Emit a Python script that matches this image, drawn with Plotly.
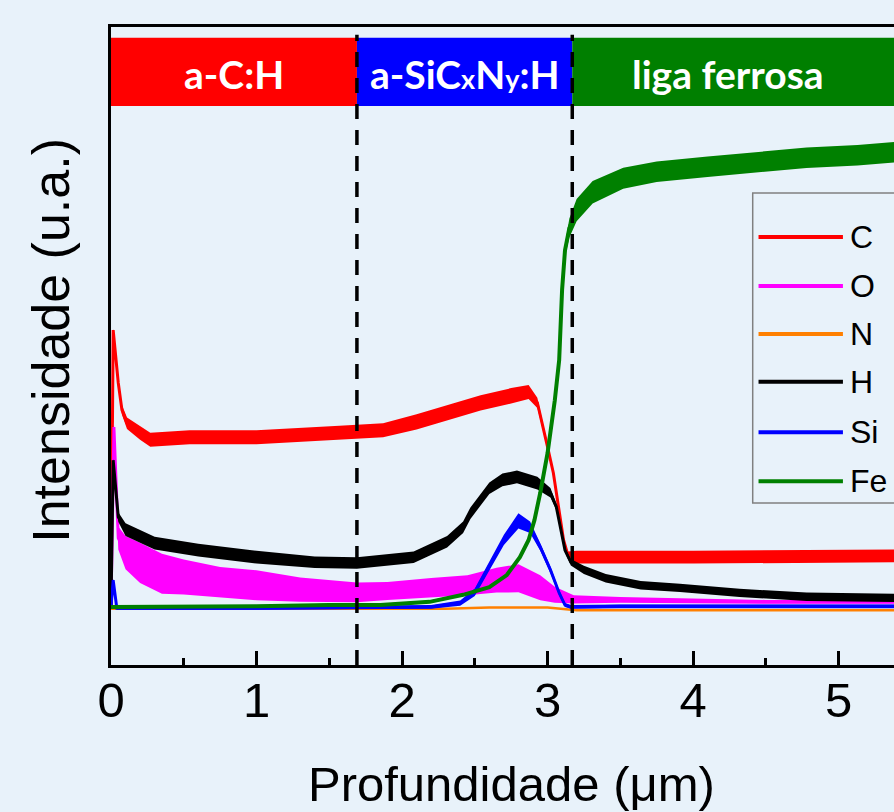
import plotly.graph_objects as go

# ---------------- data ----------------
series_names = ["C", "O", "N", "H", "Si", "Fe"]
series_colors = ["#ff0000", "#ff00ff", "#ff8000", "#000000", "#0000ff", "#008000"]

depth_C = [0, 0.015, 0.05, 0.075, 0.11, 0.2, 0.27, 0.54, 1.0, 1.57, 1.87, 2.1, 2.31, 2.54,
           2.75, 2.87, 2.93, 2.97, 3.00, 3.04, 3.07, 3.11, 3.14, 3.2, 4.0, 5.4]
int_C = [9.1, 52.5, 44.2, 40.0, 37.9, 36.4, 35.3, 35.7, 35.7, 36.4, 36.8, 38.1, 39.5, 41.1,
         42.2, 42.8, 41.1, 37.3, 34.2, 30.1, 25.4, 19.6, 17.2, 16.9, 16.9, 17.1]
noise_C = [0, 0.5, 1.0, 1.5, 1.8, 2.2, 2.2, 2.2, 2.2, 2.2, 2.2, 2.4, 2.4, 2.4,
           2.4, 2.2, 1.6, 1.0, 0.8, 0.8, 0.8, 0.8, 1.2, 2.0, 2.0, 2.0]

depth_O = [0, 0.02, 0.05, 0.1, 0.2, 0.35, 0.5, 0.75, 1.0, 1.3, 1.69, 1.9, 2.2, 2.45,
           2.65, 2.8, 2.95, 3.05, 3.18, 3.5, 4.5, 5.4]
int_O = [9.1, 37.3, 19.9, 17.6, 16.0, 14.3, 13.8, 13.0, 12.5, 11.8, 11.4, 11.6, 12.1, 12.5,
         13.3, 13.6, 12.1, 11.0, 10.3, 10.2, 9.9, 9.9]
noise_O = [0, 1.6, 3.6, 5.2, 6.3, 6.3, 5.5, 4.7, 4.7, 3.8, 3.1, 2.8, 3.1, 3.1,
           3.9, 4.4, 3.9, 2.5, 1.3, 0.9, 0.6, 0.6]

depth_N = [0, 2.3, 2.6, 3.0, 3.2, 5.4]
int_N = [8.8, 8.8, 9.0, 9.0, 8.6, 8.6]
noise_N = [0, 0, 0, 0, 0, 0]

depth_H = [0, 0.015, 0.05, 0.1, 0.3, 0.6, 1.0, 1.4, 1.69, 1.85, 2.08, 2.31, 2.42, 2.47,
           2.54, 2.6, 2.69, 2.79, 2.93, 3.02, 3.06, 3.09, 3.12, 3.16, 3.25, 3.4, 3.64,
           3.91, 4.32, 4.78, 5.4]
int_H = [9.1, 32.1, 23.2, 21.2, 19.1, 18.0, 16.9, 16.1, 16.0, 16.4, 16.9, 19.3, 21.6, 23.8,
         25.9, 27.7, 29.0, 29.5, 28.5, 27.0, 24.8, 21.6, 18.0, 16.1, 14.9, 13.6, 12.5,
         12.1, 11.3, 10.7, 10.5]
noise_H = [0, 0.5, 1.5, 2.0, 2.0, 2.0, 2.0, 1.8, 1.8, 1.8, 1.8, 1.8, 1.8, 1.8,
           1.8, 1.8, 2.0, 2.0, 2.0, 1.5, 1.0, 0.6, 0.6, 1.0, 1.3, 1.3, 1.3,
           1.3, 1.3, 1.3, 1.3]

depth_Si = [0, 0.015, 0.04, 1.0, 2.2, 2.4, 2.5, 2.6, 2.7, 2.8, 2.88, 2.95, 3.02, 3.08,
            3.12, 3.16, 3.5, 5.4]
int_Si = [9.1, 13.3, 8.9, 8.9, 9.1, 9.7, 11.4, 15.4, 19.6, 22.6, 21.6, 18.5, 14.9, 11.3,
          9.4, 9.1, 9.2, 9.2]
noise_Si = [0, 0.5, 0.5, 0.5, 0.6, 0.8, 1.2, 1.4, 1.6, 2.4, 1.8, 1.2, 1.0, 0.8,
            0.6, 0.6, 0.6, 0.6]

depth_Fe = [0, 0.5, 1.0, 1.5, 1.85, 2.19, 2.42, 2.6, 2.72, 2.81, 2.87, 2.91, 2.95, 3.0,
            3.05, 3.08, 3.10, 3.12, 3.15, 3.2, 3.31, 3.52, 3.75, 4.1, 4.44, 4.78, 5.13, 5.4]
int_Fe = [9.1, 9.1, 9.2, 9.4, 9.4, 9.9, 11.0, 12.2, 14.1, 16.9, 19.6, 22.7, 27.0, 33.2,
          41.5, 47.8, 58.8, 65.0, 68.5, 71.3, 74.1, 76.3, 77.3, 78.1, 78.8, 79.5, 79.9, 80.4]
noise_Fe = [0.4, 0.4, 0.4, 0.4, 0.4, 0.4, 0.4, 0.4, 0.4, 0.4, 0.4, 0.4, 0.4, 0.4,
            0.4, 0.4, 1.0, 2.0, 3.0, 3.5, 3.5, 3.3, 3.2, 3.2, 3.2, 3.2, 3.2, 3.2]

# layer regions (boundaries in µm) and labels
region_edges = [0, 1.69, 3.17, 5.6]
sub = '<span style="font-size:27px">{}</span>'
region_labels = ["a-C:H", "a-SiC" + sub.format("x") + "N" + sub.format("y") + ":H", "liga ferrosa"]
region_label_x = [0.845, 2.43, 4.24]
region_colors = ["#ff0000", "#0000ff", "#007f00"]

x_ticks = [0, 1, 2, 3, 4, 5]

all_series = [
    (depth_C, int_C, noise_C),
    (depth_O, int_O, noise_O),
    (depth_N, int_N, noise_N),
    (depth_H, int_H, noise_H),
    (depth_Si, int_Si, noise_Si),
    (depth_Fe, int_Fe, noise_Fe),
]
line_widths = [3, 3, 2.5, 3, 3, 4]

# ---------------- figure ----------------
fig = go.Figure()

for (x, y, nz), name, color, lw in zip(all_series, series_names, series_colors, line_widths):
    lo = [v - n / 2 for v, n in zip(y, nz)]
    hi = [v + n / 2 for v, n in zip(y, nz)]
    fig.add_trace(go.Scatter(x=x, y=lo, mode="lines", line=dict(width=0, color=color),
                             showlegend=False, hoverinfo="skip"))
    fig.add_trace(go.Scatter(x=x, y=hi, mode="lines", line=dict(width=0, color=color),
                             fill="tonexty", fillcolor=color, showlegend=False, hoverinfo="skip"))
    fig.add_trace(go.Scatter(x=x, y=y, mode="lines", name=name,
                             line=dict(width=lw, color=color), showlegend=False))

shapes = []
# coloured region bands at the top
band_y0, band_y1 = 87.6, 98.3
for i in range(3):
    shapes.append(dict(type="rect", xref="x", yref="y", x0=region_edges[i], x1=region_edges[i + 1],
                       y0=band_y0, y1=band_y1, fillcolor=region_colors[i], line=dict(width=0),
                       layer="above"))
# dashed boundaries
for xb in region_edges[1:3]:
    shapes.append(dict(type="line", xref="x", yref="y", x0=xb, x1=xb, y0=0, y1=98.8,
                       line=dict(color="black", width=3.5, dash="15px,11px"), layer="above"))

# manual legend (box, sample lines, labels)
leg_y = [67.1, 59.4, 51.9, 44.4, 36.5, 28.8]
shapes.append(dict(type="rect", xref="x", yref="y", x0=4.41, x1=5.7, y0=25.4, y1=74.0,
                   line=dict(color="#808080", width=1.5), fillcolor="rgba(0,0,0,0)", layer="above"))
annotations = []
for name, color, yy in zip(series_names, series_colors, leg_y):
    shapes.append(dict(type="line", xref="x", yref="y", x0=4.45, x1=5.03, y0=yy, y1=yy,
                       line=dict(color=color, width=4), layer="above"))
    annotations.append(dict(x=5.065, y=yy, xref="x", yref="y", text=name, showarrow=False,
                            xanchor="left", yanchor="middle",
                            font=dict(family="Liberation Sans, Arial", size=32, color="black")))

for lab, xl in zip(region_labels, region_label_x):
    annotations.append(dict(x=xl, y=92.6, xref="x", yref="y", text="<b>" + lab + "</b>",
                            showarrow=False, xanchor="center", yanchor="middle",
                            font=dict(family="Lato", size=39, color="white")))

# axis titles
annotations.append(dict(x=0.512, y=-0.186, xref="paper", yref="paper", text="Profundidade (μm)",
                        showarrow=False, xanchor="center", yanchor="middle",
                        font=dict(family="Liberation Sans, Arial", size=49, color="black")))
annotations.append(dict(x=-0.076, y=0.509, xref="paper", yref="paper", text="Intensidade (u.a.)",
                        showarrow=False, xanchor="center", yanchor="middle", textangle=-90,
                        font=dict(family="Liberation Sans, Arial", size=52, color="black")))

fig.update_layout(
    width=894, height=812,
    margin=dict(l=111, r=0, t=27, b=147),
    paper_bgcolor="#e8f2fa",
    plot_bgcolor="rgba(0,0,0,0)",
    shapes=shapes,
    annotations=annotations,
    showlegend=False,
    xaxis=dict(range=[0, 5.381], showgrid=False, zeroline=False, showline=True, linecolor="black",
               linewidth=3, mirror=True, ticks="inside", ticklen=14, tickwidth=3, tickcolor="black",
               tickvals=x_ticks, ticktext=[str(t) for t in x_ticks], ticklabelstandoff=-10,
               tickfont=dict(family="Liberation Sans, Arial", size=49, color="black"),
               minor=dict(dtick=0.5, ticks="inside", ticklen=7, tickwidth=3, tickcolor="black")),
    yaxis=dict(range=[0, 100], showgrid=False, zeroline=False, showline=True, linecolor="black",
               linewidth=3, mirror=False, ticks="", showticklabels=False),
)

fig.write_html(
    "out.html",
    config={"displayModeBar": False},
    post_script="document.body.style.margin='0px';document.body.style.padding='0px';"
                "document.body.style.background='#e8f2fa';document.body.style.overflow='hidden';",
)
